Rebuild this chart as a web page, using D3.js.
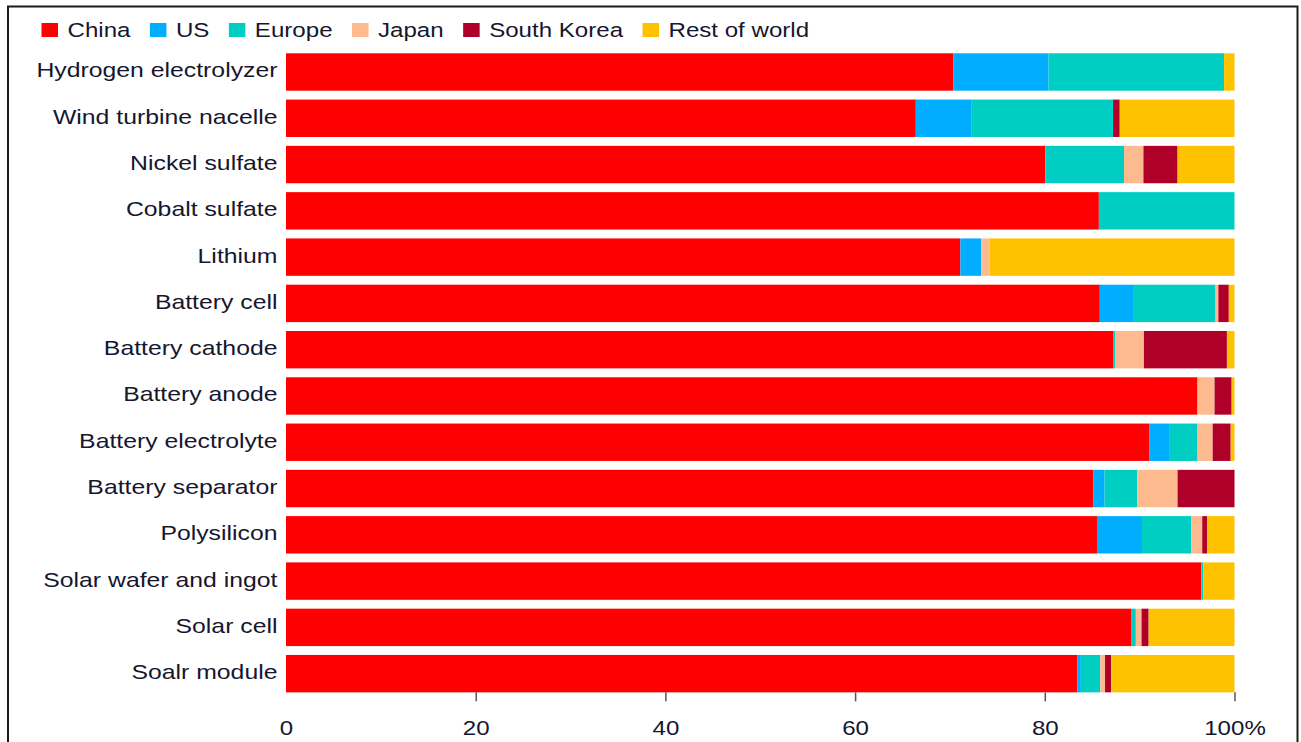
<!DOCTYPE html>
<html>
<head>
<meta charset="utf-8">
<script src="https://cdn.jsdelivr.net/npm/d3@7"></script>
<style>
  html, body { margin: 0; padding: 0; background: #fff; }
  svg { display: block; }
  text { font-family: "Liberation Sans", Arial, sans-serif; fill: #16162e; }
</style>
</head>
<body>
<svg id="chart" width="1301" height="742"></svg>
<script>
// Share of global manufacturing capacity by region (%)
const categories = [
  "Hydrogen electrolyzer", "Wind turbine nacelle", "Nickel sulfate", "Cobalt sulfate",
  "Lithium", "Battery cell", "Battery cathode", "Battery anode", "Battery electrolyte",
  "Battery separator", "Polysilicon", "Solar wafer and ingot", "Solar cell", "Soalr module"
];
const china      = [70.35, 66.4, 80.05, 85.7, 71.1, 85.8, 87.2, 96.1, 91.05, 85.1, 85.5, 96.5, 89.15, 83.45];
const us         = [10.05, 5.9, 0, 0, 2.2, 3.5, 0, 0, 2.05, 1.2, 4.75, 0, 0, 0.35];
const europe     = [18.5, 14.9, 8.3, 14.3, 0, 8.7, 0.2, 0, 3.0, 3.45, 5.2, 0.2, 0.45, 2.05];
const japan      = [0, 0, 2.05, 0, 0.9, 0.3, 3.05, 1.8, 1.6, 4.25, 1.15, 0, 0.6, 0.5];
const southKorea = [0, 0.7, 3.6, 0, 0, 1.1, 8.75, 1.8, 1.9, 6.0, 0.5, 0, 0.75, 0.65];
const restOfWorld= [1.1, 12.1, 6.0, 0, 25.8, 0.6, 0.8, 0.3, 0.4, 0, 2.9, 3.3, 9.05, 13.0];

const seriesNames = ["China", "US", "Europe", "Japan", "South Korea", "Rest of world"];
const seriesColors = ["#ff0000", "#00adff", "#00cec2", "#fdba8e", "#ae0029", "#ffc200"];
const tickValues = [0, 20, 40, 60, 80, 100];

const seriesValues = [china, us, europe, japan, southKorea, restOfWorld];
const rows = categories.map((c, i) => {
  const r = { category: c };
  seriesNames.forEach((s, k) => { r[s] = seriesValues[k][i]; });
  return r;
});

const svg = d3.select("#chart");
const SX = 1.175;      // horizontal stretch applied to all lettering
const FONT = 20.5;

// frame
svg.append("path")
  .attr("d", "M8,742 L8,6.5 L1297.5,6.5 L1297.5,742")
  .attr("fill", "none").attr("stroke", "#1a1a1a").attr("stroke-width", 2);

const x = d3.scaleLinear().domain([0, 100]).range([286, 1234.5]);
const y = d3.scaleBand().domain(categories).range([48.85, 696.8])
  .paddingInner(0.192).paddingOuter(0.096);

const stack = d3.stack().keys(seriesNames)(rows);

// bars
const layers = svg.append("g").selectAll("g").data(stack).join("g")
  .attr("fill", (d, i) => seriesColors[i]);
layers.selectAll("rect").data(d => d).join("rect")
  .attr("x", d => x(d[0]))
  .attr("y", d => y(d.data.category))
  .attr("width", d => Math.max(0, x(d[1]) - x(d[0])))
  .attr("height", y.bandwidth());

// category labels
function stretchedText(parent, tx, ty, str, anchor, size) {
  return parent.append("text")
    .attr("transform", `translate(${tx},${ty}) scale(${SX},1)`)
    .attr("text-anchor", anchor)
    .attr("font-size", size || FONT)
    .text(str);
}
const labels = svg.append("g");
categories.forEach(c => {
  stretchedText(labels, 277.5, y(c) + y.bandwidth() / 2 + 5.5, c, "end", 21.1);
});

// x axis
const axis = d3.axisBottom(x)
  .tickValues(tickValues)
  .tickSize(9)
  .tickFormat(d => d === 100 ? "100%" : d);
const ax = svg.append("g").attr("transform", `translate(0,${y(categories[categories.length - 1]) + y.bandwidth()})`).call(axis);
ax.select(".domain").remove();
ax.selectAll(".tick line").attr("stroke", "#555").attr("stroke-width", 1.5)
  .attr("opacity", d => d === 0 ? 0 : 1);
ax.selectAll(".tick text")
  .attr("y", 43).attr("dy", 0)
  .attr("font-size", FONT)
  .attr("font-family", "Liberation Sans, Arial, sans-serif")
  .attr("fill", "#16162e")
  .attr("transform", `scale(${SX},1)`);

// legend
const legend = svg.append("g");
let lx = 41.5;
seriesNames.forEach((s, i) => {
  legend.append("rect").attr("x", lx).attr("y", 23).attr("width", 16.5).attr("height", 14)
    .attr("fill", seriesColors[i]);
  const t = stretchedText(legend, lx + 26, 37, s, "start");
  const w = t.node().getComputedTextLength() * SX;
  lx = lx + 26 + w + 19.5;
});
</script>
</body>
</html>
